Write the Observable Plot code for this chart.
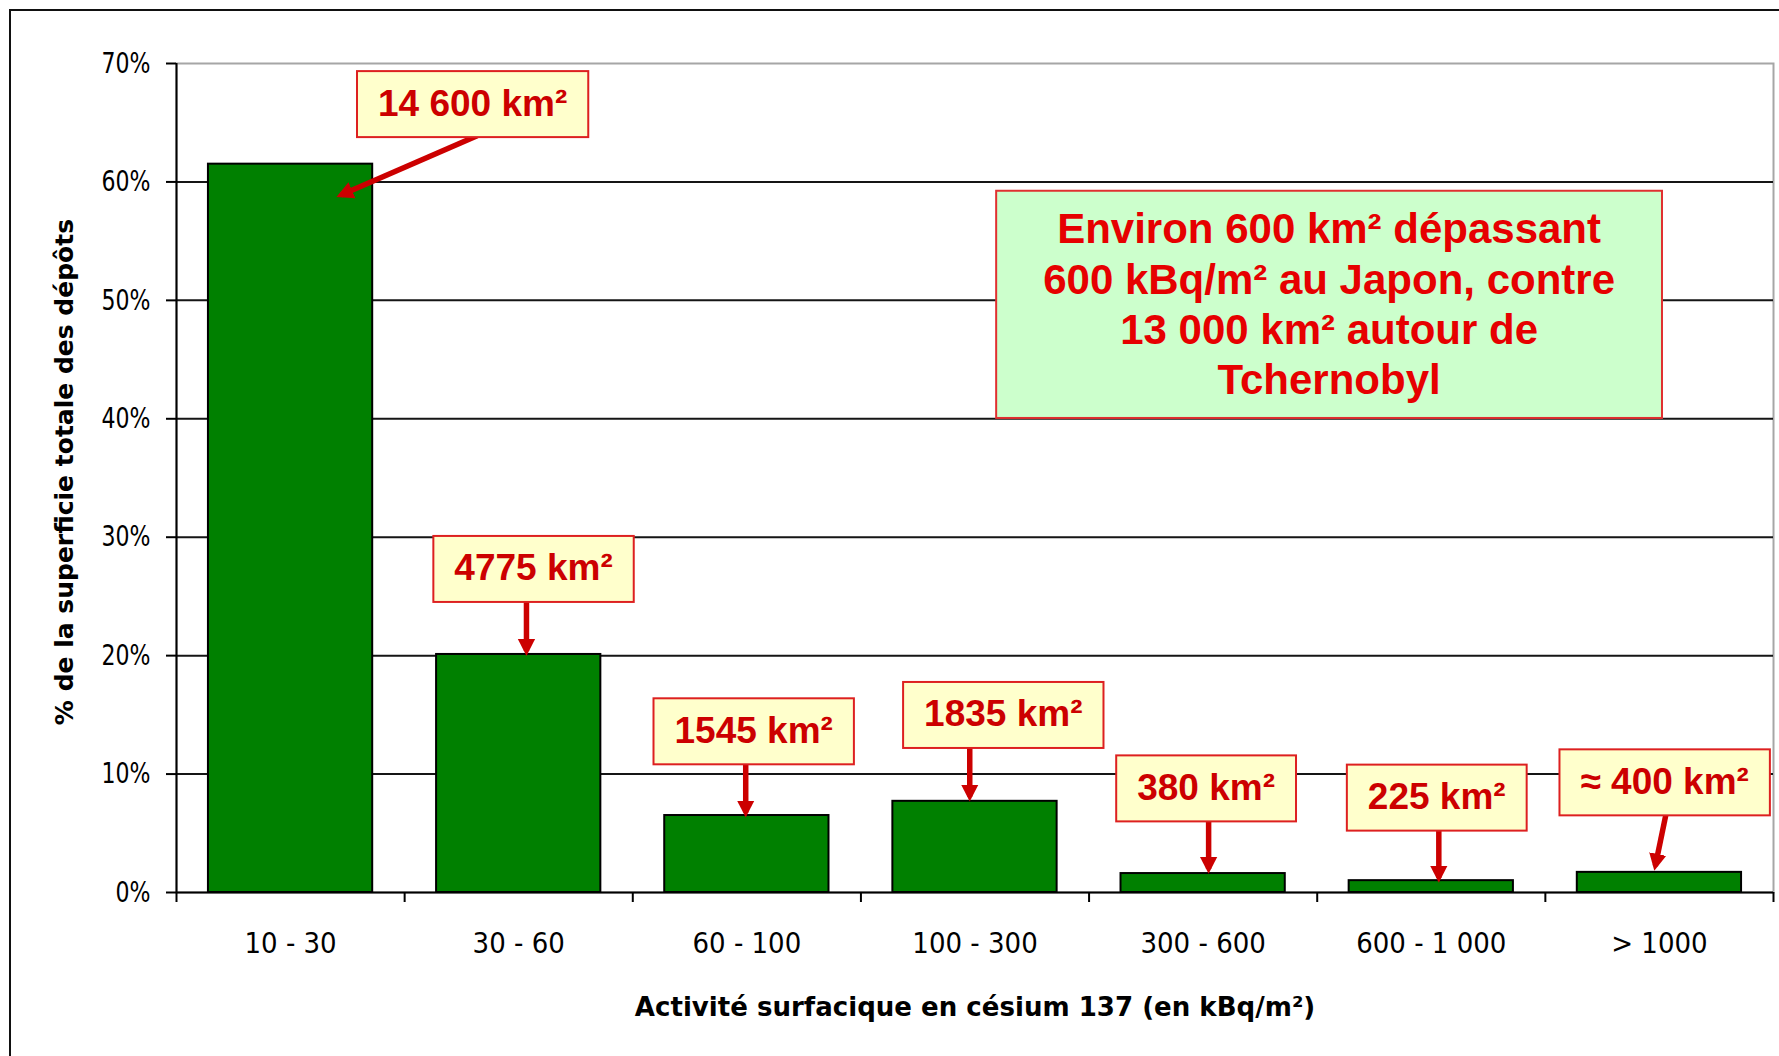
<!DOCTYPE html>
<html><head><meta charset="utf-8">
<script src="https://cdn.jsdelivr.net/npm/d3@7"></script>
<script src="https://cdn.jsdelivr.net/npm/@observablehq/plot@0.6"></script>
<style>
html,body{margin:0;padding:0;background:#fff;}
#wrap{position:relative;width:1779px;height:1056px;overflow:hidden;background:#fff;}
#wrap svg{display:block;}
#border{position:absolute;left:9px;top:9px;width:1800px;height:1100px;border:2px solid #111;box-sizing:border-box;pointer-events:none;}
</style></head><body>
<div id="wrap"><div id="border"></div></div>
<script>
// ---- data ----
const categories = ["10 - 30", "30 - 60", "60 - 100", "100 - 300", "300 - 600", "600 - 1 000", "> 1000"];
const shares = [61.5, 20.1, 6.5, 7.7, 1.6, 1.0, 1.7];           // % of total deposit area
const yTicks = [0, 10, 20, 30, 40, 50, 60, 70];
const calloutLabels = ["14 600 km²", "4775 km²", "1545 km²", "1835 km²", "380 km²", "225 km²", "≈ 400 km²"];
const xTitle = "Activité surfacique en césium 137 (en kBq/m²)";
const yTitle = "% de la superficie totale des dépôts";
const noteLines = ["Environ 600 km² dépassant", "600 kBq/m² au Japon, contre", "13 000 km² autour de", "Tchernobyl"];

// ---- callout placement (scale units: x = category index, y = percent) ----
const boxX = [1.298, 1.565, 2.530, 3.624, 4.513, 5.524, 6.523];
const boxY = [66.6, 27.35, 13.64, 15.02, 8.82, 8.04, 9.33];
const arrowX1 = [1.318, 1.534, 2.495, 3.477, 4.524, 5.533, 6.528];
const arrowY1 = [63.9, 24.6, 10.8, 12.2, 6.0, 5.3, 6.54];
const arrowX2 = [0.721, 1.534, 2.495, 3.477, 4.524, 5.533, 6.482];
const arrowY2 = [58.9, 20.4, 6.75, 8.1, 2.0, 1.25, 2.25];
const noteX = 5.052, noteY = 49.8;

// ---- layout ----
const W = 1779, H = 1056, ML = 176, MR = 6, MT = 63, MB = 164;
const step = (W - ML - MR) / categories.length;
const rows = categories.map((c, i) => ({c, i, v: shares[i]}));
const callouts = calloutLabels.map((t, i) => ({t, bx: boxX[i], by: boxY[i], x1: arrowX1[i], y1: arrowY1[i], x2: arrowX2[i], y2: arrowY2[i]}));
const noteText = noteLines.join("\n");
const RED = "#cc0000";

const plot = Plot.plot({
  width: W, height: H,
  marginLeft: ML, marginRight: MR, marginTop: MT, marginBottom: MB,
  x: {type: "linear", domain: [0, categories.length], label: null},
  y: {domain: [0, 70], label: null},
  style: {fontFamily: "DejaVu Sans, sans-serif", fontSize: "28px", color: "#000", background: "#fff"},
  marks: [
    Plot.frame({stroke: "#a6a6a6", strokeWidth: 2}),
    Plot.ruleY(yTicks.filter(t => t > 0 && t < 70), {stroke: "#151515", strokeWidth: 2}),
    Plot.rect(rows, {x1: d => d.i, x2: d => d.i + 1, y1: () => 0, y2: "v",
      insetLeft: step * 0.14, insetRight: step * 0.14, fill: "#008000", stroke: "#000", strokeWidth: 2}),
    Plot.ruleX([0], {stroke: "#000", strokeWidth: 2}),
    Plot.ruleY([0], {stroke: "#000", strokeWidth: 2}),
    Plot.axisY({ticks: yTicks, tickFormat: d => d + "%", tickSize: 10, tickPadding: 16, fontSize: 29, stroke: "#000", strokeWidth: 2, label: null}),
    Plot.axisX({ticks: d3.range(categories.length + 1), tickSize: 10, tickFormat: () => "", stroke: "#000", strokeWidth: 2, label: null}),
    Plot.axisX({ticks: categories.map((_, i) => i + 0.5), tickSize: 0, tickPadding: 41, tickFormat: d => categories[Math.floor(d)], fontSize: 28, label: null}),
    Plot.text([yTitle], {text: d => d, frameAnchor: "left", textAnchor: "middle", lineAnchor: "middle", rotate: -90, dx: -112, dy: -6, fontWeight: "bold", fontSize: 25, fill: "#000"}),
    Plot.text([xTitle], {text: d => d, frameAnchor: "bottom", textAnchor: "middle", lineAnchor: "middle", dy: 115, fontWeight: "bold", fontSize: 27, fill: "#000"}),
    Plot.text([noteText], {text: d => d, x: () => noteX, y: () => noteY, lineHeight: 1.2, fontSize: 42, fontWeight: "bold",
      fontFamily: "Liberation Sans, Arial, sans-serif", fill: "#e60000"}),
    Plot.link(callouts, {x1: "x1", y1: "y1", x2: "x2", y2: "y2", stroke: RED, strokeWidth: 5.5}),
    Plot.text(callouts, {x: "bx", y: "by", text: "t", fontSize: 37, fontWeight: "bold",
      fontFamily: "Liberation Sans, Arial, sans-serif", fill: RED})
  ]
});

document.getElementById("wrap").insertBefore(plot, document.getElementById("border"));
const svg = plot.tagName.toLowerCase() === "svg" ? plot : plot.querySelector("svg");
const NS = "http://www.w3.org/2000/svg";
const allTexts = Array.from(svg.querySelectorAll("text"));
const byContent = pred => allTexts.filter(t => pred(t.textContent));

// narrow the axis typography like the original
function squeeze(list, f) {
  list.forEach(t => {
    const L = t.getComputedTextLength();
    if (L > 0) { t.setAttribute("textLength", (L * f).toFixed(1)); t.setAttribute("lengthAdjust", "spacingAndGlyphs"); }
  });
}
squeeze(Array.from(svg.querySelectorAll('g[aria-label="y-axis tick label"] text')), 0.76);
squeeze(Array.from(svg.querySelectorAll('g[aria-label="x-axis tick label"] text')), 0.93);
squeeze(byContent(s => s === xTitle), 0.965);

// boxes behind callout texts
function boxify(list, padX, padY, fixedH, fill, stroke) {
  list.forEach(t => {
    const b = t.getBBox();
    const h = fixedH || (b.height + 2 * padY);
    const cy = b.y + b.height / 2 + (fixedH ? 1 : 0);
    const r = document.createElementNS(NS, "rect");
    r.setAttribute("x", b.x - padX);
    r.setAttribute("y", cy - h / 2);
    r.setAttribute("width", b.width + 2 * padX);
    r.setAttribute("height", h);
    r.setAttribute("fill", fill);
    r.setAttribute("stroke", stroke);
    r.setAttribute("stroke-width", 2);
    if (t.getAttribute("transform")) r.setAttribute("transform", t.getAttribute("transform"));
    t.parentNode.insertBefore(r, t);
  });
}
boxify(byContent(s => calloutLabels.includes(s)), 21, 0, 66, "#ffffcc", "#dd2020");
boxify(byContent(s => s.startsWith(noteLines[0])), 47, 14.5, 0, "#ccffcc", "#e03030");

// filled arrow heads
const defs = document.createElementNS(NS, "defs");
const marker = document.createElementNS(NS, "marker");
marker.setAttribute("id", "ahead");
marker.setAttribute("markerUnits", "userSpaceOnUse");
marker.setAttribute("viewBox", "0 -10 20 20");
marker.setAttribute("markerWidth", 20);
marker.setAttribute("markerHeight", 20);
marker.setAttribute("refX", 12);
marker.setAttribute("refY", 0);
marker.setAttribute("orient", "auto");
const mp = document.createElementNS(NS, "path");
mp.setAttribute("d", "M0,-8.7L17,0L0,8.7Z");
mp.setAttribute("fill", RED);
marker.appendChild(mp);
defs.appendChild(marker);
svg.insertBefore(defs, svg.firstChild);
svg.querySelectorAll('g[aria-label="link"] path').forEach(p => p.setAttribute("marker-end", "url(#ahead)"));
</script>
</body></html>
